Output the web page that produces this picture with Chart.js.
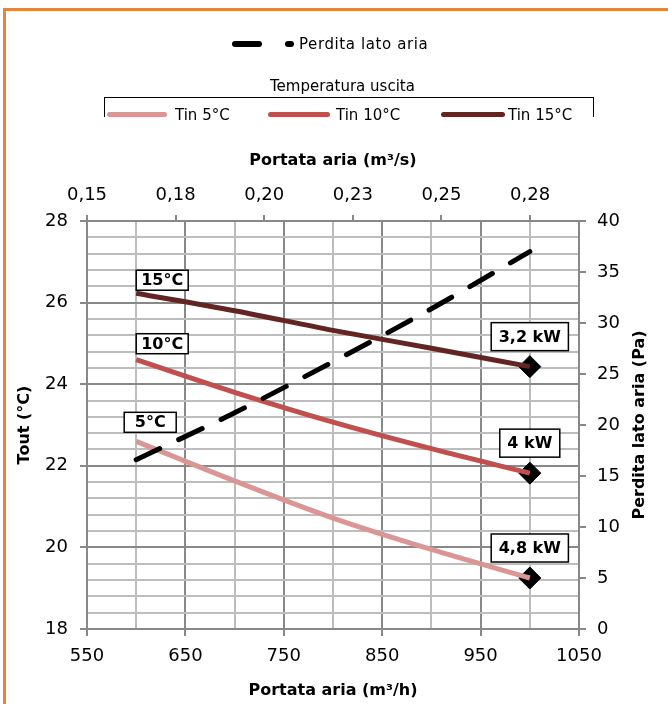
<!DOCTYPE html>
<html>
<head>
<meta charset="utf-8">
<script src="https://cdn.jsdelivr.net/npm/chart.js@4.4.1/dist/chart.umd.min.js"></script>
<style>
  body { margin: 0; background: #fff; font-family: "DejaVu Sans", sans-serif; }
  #wrap { position: relative; width: 668px; height: 704px; overflow: hidden; }
  #frame { position: absolute; left: 3px; top: 8px; width: 720px; height: 760px;
           border: 3px solid #E8843C; box-sizing: border-box; }
  canvas { position: absolute; left: 0; top: 0; }
  .leg { position: absolute; font-size: 15px; line-height: 18px; color: #000; white-space: nowrap; }
  .seg { position: absolute; height: 5px; border-radius: 3px; }
  #boxleg { position: absolute; left: 104px; top: 97px; width: 490px; height: 20px;
            border: 1px solid #000; border-bottom: none; box-sizing: border-box; }
</style>
</head>
<body>
<div id="wrap">
  <div id="frame"></div>
  <canvas id="grafico" width="668" height="704"></canvas>

  <!-- legenda perdita -->
  <div class="seg" style="left:232px;top:41px;width:30px;height:6px;background:#000"></div>
  <div class="seg" style="left:285px;top:41px;width:9px;height:6px;background:#000"></div>
  <div class="leg" style="left:299px;top:35px;letter-spacing:0.6px">Perdita lato aria</div>

  <!-- legenda temperature -->
  <div class="leg" style="left:270px;top:77px">Temperatura uscita</div>
  <div id="boxleg"></div>
  <div class="seg" style="left:107px;top:112px;width:60px;background:#D99694"></div>
  <div class="leg" style="left:175px;top:106px">Tin 5°C</div>
  <div class="seg" style="left:268px;top:112px;width:62px;background:#C0504D"></div>
  <div class="leg" style="left:336px;top:106px">Tin 10°C</div>
  <div class="seg" style="left:441px;top:112px;width:64px;background:#632523"></div>
  <div class="leg" style="left:508px;top:106px">Tin 15°C</div>
</div>

<script>
// dati
const portata = [600, 700, 800, 900, 1000];          // m3/h
const tin5 = [22.6, 21.63, 20.72, 19.95, 19.25];     // Tout °C
const tin10 = [24.6, 23.8, 23.07, 22.42, 21.82];
const tin15 = [26.23, 25.8, 25.32, 24.88, 24.43];
const perdita = [16.6, 21.2, 26.2, 31.4, 37.0];      // Pa

const etichetteInizio = ['5°C', '10°C', '15°C'];
const etichetteFine = ['4,8 kW', '4 kW', '3,2 kW'];

const tickBasso = [550, 650, 750, 850, 950, 1050];
const tickAltoValori = [0.15, 0.175, 0.2, 0.225, 0.25, 0.275];
const tickAlto = ['0,15', '0,18', '0,20', '0,23', '0,25', '0,28'];

const punti = serie => portata.map((x, i) => ({ x: x, y: serie[i] }));
const ultimo = serie => ({ x: portata[portata.length - 1], y: serie[serie.length - 1] });

const grigioMaggiore = '#888888';
const grigioMinore = '#BDBDBD';
const maggiore = v => Math.abs(v / 2 - Math.round(v / 2)) < 1e-6;

Chart.defaults.font.family = '"DejaVu Sans", sans-serif';
Chart.defaults.color = '#000';

// etichette nei riquadri + titolo asse destro
const etichette = {
  id: 'etichette',
  afterDatasetsDraw(chart) {
    const ctx = chart.ctx;
    ctx.save();
    ctx.font = 'bold 16px "DejaVu Sans"';
    ctx.textBaseline = 'middle';
    const spostX = [-12, 0, 0];
    const spostY = [9, 6, 3];
    const riquadro = (testo, left, bottom, w, h) => {
      ctx.fillStyle = '#fff';
      ctx.fillRect(left, bottom - h, w, h);
      ctx.strokeStyle = '#000';
      ctx.lineWidth = 1.5;
      ctx.strokeRect(left, bottom - h, w, h);
      ctx.fillStyle = '#000';
      ctx.textAlign = 'center';
      ctx.fillText(testo, left + w / 2, bottom - h / 2 + 1);
    };
    [0, 1, 2].forEach(i => {
      const pts = chart.getDatasetMeta(i).data;
      const p0 = pts[0];
      const pn = pts[pts.length - 1];
      riquadro(etichetteInizio[i], p0.x + spostX[i], p0.y - spostY[i], 52, 20);
      const w = ctx.measureText(etichetteFine[i]).width + 15;
      riquadro(etichetteFine[i], pn.x - w / 2, pn.y - 16, w, 28);
    });
    // titolo asse destro, letto dal basso verso l'alto
    const a = chart.chartArea;
    ctx.translate(640, (a.top + a.bottom) / 2);
    ctx.rotate(-Math.PI / 2);
    ctx.textAlign = 'center';
    ctx.fillText('Perdita lato aria (Pa)', 0, 0);
    ctx.restore();
  }
};

const ctx = document.getElementById('grafico').getContext('2d');

const grafico = new Chart(ctx, {
  type: 'line',
  data: {
    datasets: [
      { label: 'Tin 5°C', data: punti(tin5), yAxisID: 'y', xAxisID: 'x',
        borderColor: '#D99694', borderWidth: 5, pointRadius: 0, cubicInterpolationMode: 'monotone' },
      { label: 'Tin 10°C', data: punti(tin10), yAxisID: 'y', xAxisID: 'x',
        borderColor: '#C0504D', borderWidth: 5, pointRadius: 0, cubicInterpolationMode: 'monotone' },
      { label: 'Tin 15°C', data: punti(tin15), yAxisID: 'y', xAxisID: 'x',
        borderColor: '#632523', borderWidth: 5, pointRadius: 0, cubicInterpolationMode: 'monotone' },
      { label: 'Perdita lato aria', data: punti(perdita), yAxisID: 'y2', xAxisID: 'x',
        borderColor: '#000', borderWidth: 5, borderDash: [26, 21], borderCapStyle: 'round',
        pointRadius: 0, cubicInterpolationMode: 'monotone', order: -1 },
      { label: 'potenza', data: [ultimo(tin5), ultimo(tin10), ultimo(tin15)], yAxisID: 'y', xAxisID: 'x',
        showLine: false, pointStyle: 'rectRot', pointRadius: 11,
        pointBackgroundColor: '#000', pointBorderColor: '#000', order: 1 }
    ]
  },
  options: {
    responsive: false,
    animation: false,
    devicePixelRatio: 1,
    layout: { padding: { top: 151, left: 15, right: 19, bottom: 0 } },
    plugins: {
      legend: { display: false },
      tooltip: { enabled: false }
    },
    scales: {
      x: {
        type: 'linear', position: 'bottom', min: 550, max: 1050,
        ticks: {
          stepSize: 50, autoSkip: false, maxRotation: 0, padding: 10,
          font: { size: 18 },
          callback: v => tickBasso.includes(v) ? String(v) : ''
        },
        grid: {
          lineWidth: 2, tickLength: 7,
          color: c => tickBasso.includes(c.tick.value) ? grigioMaggiore : grigioMinore,
          tickColor: c => tickBasso.includes(c.tick.value) ? grigioMaggiore : 'rgba(0,0,0,0)'
        },
        border: { color: grigioMaggiore, width: 2 },
        title: { display: true, text: 'Portata aria (m³/h)', font: { size: 16, weight: 'bold' },
                 padding: { top: 0, bottom: 4 } },
        afterFit: s => { s.height = 75; }
      },
      x2: {
        type: 'linear', position: 'top', min: 0.15, max: 0.2888,
        afterBuildTicks: s => { s.ticks = tickAltoValori.map(v => ({ value: v })); },
        ticks: { font: { size: 18 }, maxRotation: 0, padding: 9, callback: (v, i) => tickAlto[i] },
        grid: { drawOnChartArea: false, tickLength: 6, lineWidth: 2, color: grigioMaggiore },
        border: { color: grigioMaggiore, width: 2 },
        title: { display: true, text: 'Portata aria (m³/s)', font: { size: 16, weight: 'bold' },
                 padding: { top: 0, bottom: 0 } },
        afterFit: s => { s.height = 70; }
      },
      y: {
        type: 'linear', position: 'left', min: 18, max: 28,
        ticks: {
          stepSize: 0.4, autoSkip: false, padding: 12, font: { size: 18 },
          callback: v => maggiore(v) ? String(Math.round(v)) : ''
        },
        grid: {
          lineWidth: 2, tickLength: 7,
          color: c => maggiore(c.tick.value) ? grigioMaggiore : grigioMinore,
          tickColor: c => maggiore(c.tick.value) ? grigioMaggiore : 'rgba(0,0,0,0)'
        },
        border: { color: grigioMaggiore, width: 2 },
        title: { display: true, text: 'Tout (°C)', font: { size: 16, weight: 'bold' }, padding: 0 },
        afterFit: s => { s.width = 72; }
      },
      y2: {
        type: 'linear', position: 'right', min: 0, max: 40,
        ticks: { stepSize: 5, padding: 11, font: { size: 18 } },
        grid: { drawOnChartArea: false, tickLength: 7, lineWidth: 2, color: grigioMaggiore },
        border: { color: grigioMaggiore, width: 2 },
        afterFit: s => { s.width = 70; }
      }
    }
  },
  plugins: [etichette]
});
</script>
</body>
</html>
